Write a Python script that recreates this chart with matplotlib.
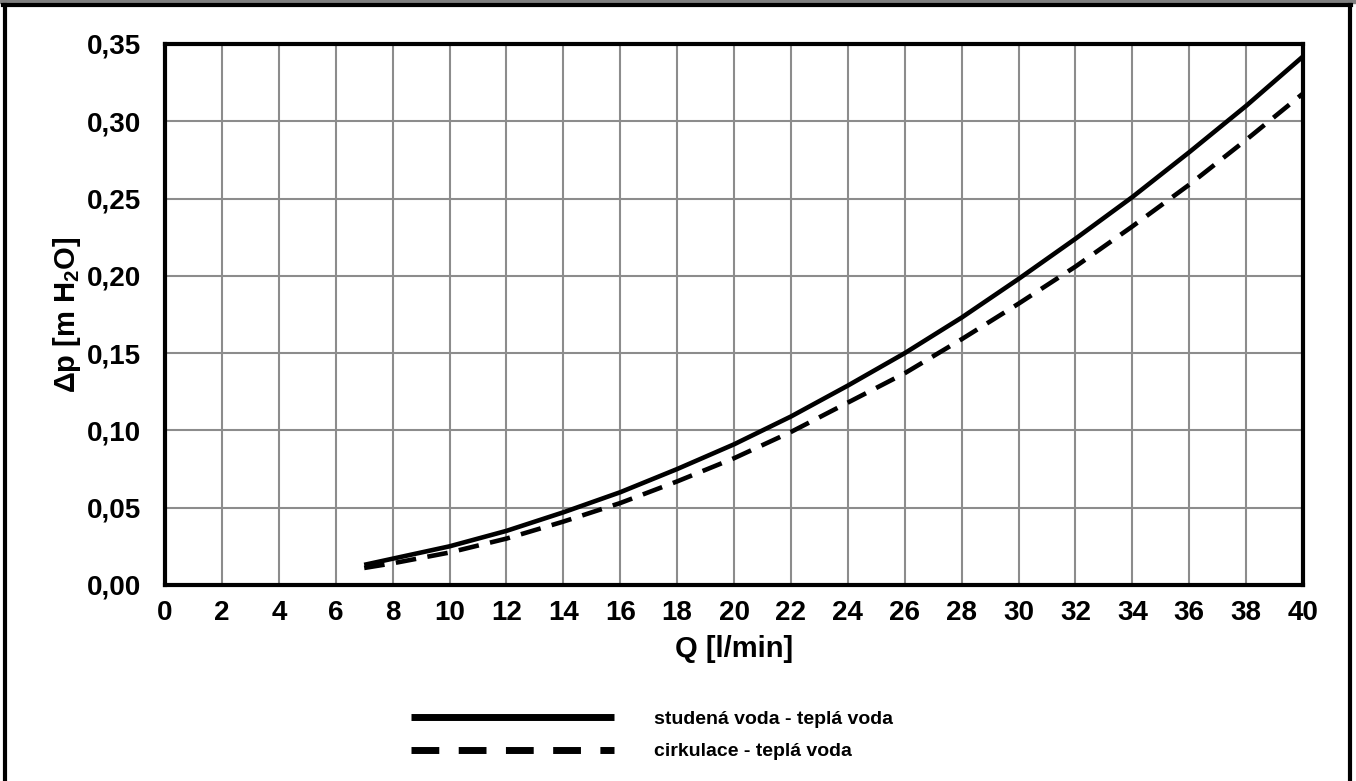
import numpy as np
import matplotlib.pyplot as plt
from matplotlib.lines import Line2D
from matplotlib.patches import Rectangle

plt.rcParams['font.family'] = ['Liberation Sans', 'DejaVu Sans']
plt.rcParams['font.weight'] = 'bold'
plt.rcParams['mathtext.fontset'] = 'custom'
plt.rcParams['mathtext.rm'] = 'Liberation Sans:bold'
plt.rcParams['mathtext.default'] = 'rm'

# prutok Q [l/min] a tlakova ztrata [m H2O]
q = [7, 8, 10, 12, 14, 16, 18, 20, 22, 24, 26, 28, 30, 32, 34, 36, 38, 40]
dp_studena = [0.013, 0.017, 0.025, 0.035, 0.047, 0.060, 0.075, 0.091, 0.109,
              0.129, 0.150, 0.173, 0.198, 0.224, 0.251, 0.280, 0.310, 0.342]
dp_cirkulace = [0.011, 0.014, 0.021, 0.030, 0.041, 0.053, 0.067, 0.082, 0.099,
                0.118, 0.137, 0.159, 0.182, 0.206, 0.232, 0.259, 0.288, 0.318]
labels = ['studená voda - teplá voda', 'cirkulace - teplá voda']

x_ticks = np.arange(0, 41, 2)
y_ticks = np.arange(0, 0.351, 0.05)

fig = plt.figure(figsize=(13.56, 7.81), dpi=100)
ax = fig.add_axes([0.1217, 0.251, 0.8393, 0.6927])

ax.plot(q, dp_studena, color='black', lw=3.3, solid_capstyle='butt')
ax.plot(q, dp_cirkulace, color='black', lw=3.3, ls=(0, (4.5, 2.5)))

ax.set_xlim(0, 40)
ax.set_ylim(0, 0.35)
ax.set_xticks(x_ticks)
ax.set_yticks(y_ticks)
ax.set_yticklabels([f"{v:.2f}".replace('.', ',') for v in y_ticks])
ax.tick_params(length=0, labelsize=20)
ax.tick_params(axis='x', pad=11)
ax.tick_params(axis='y', pad=17)
ax.grid(True, color='#8c8c8c', lw=1.5)
ax.set_axisbelow(True)
for s in ax.spines.values():
    s.set_linewidth(3)

ax.set_xlabel('Q [l/min]', fontsize=21, fontweight='bold', labelpad=6)
ax.set_ylabel('Δp [m H$_2$O]', fontsize=21, fontweight='bold', labelpad=3)

# legenda s tlustsimi carami
handles = [Line2D([], [], color='black', lw=5, solid_capstyle='butt'),
           Line2D([], [], color='black', lw=5, ls=(0, (4, 2.8)))]
ax.legend(handles, labels, loc='upper left', bbox_to_anchor=(0.201, -0.2),
          frameon=False, fontsize=14, handlelength=10.4, handletextpad=2.1,
          labelspacing=0.75)

# ramecek okolo obrazku
fig.patches.append(Rectangle((0, 1 - 3 / 781), 1, 3 / 781, transform=fig.transFigure,
                             color='#808080', zorder=0))
fig.lines.append(Line2D([3 / 1356, 1351 / 1356], [1 - 4.5 / 781] * 2,
                        transform=fig.transFigure, color='black', lw=3))
fig.lines.append(Line2D([4.5 / 1356] * 2, [0, 1 - 4.5 / 781],
                        transform=fig.transFigure, color='black', lw=3))
fig.lines.append(Line2D([1349.5 / 1356] * 2, [0, 1 - 4.5 / 781],
                        transform=fig.transFigure, color='black', lw=3))

fig.savefig('out.png', dpi=100)
